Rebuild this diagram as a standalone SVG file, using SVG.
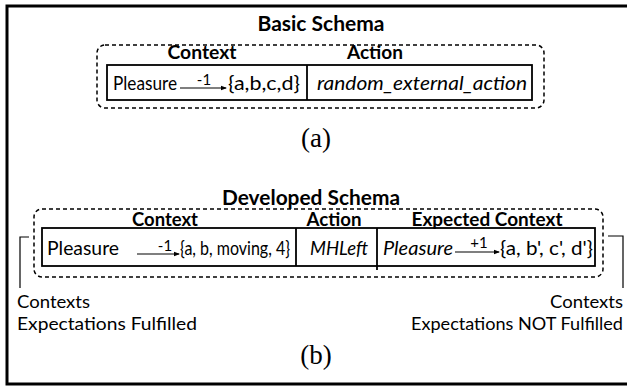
<svg xmlns="http://www.w3.org/2000/svg" width="627" height="386" viewBox="0 0 627 386">
  <style>
    .frame { fill: none; stroke: #000; stroke-width: 3; }
    .dash { fill: none; stroke: #000; stroke-width: 1.5; stroke-dasharray: 4 3; }
    .cell { fill: none; stroke: #000; stroke-width: 1.8; }
    .rule { stroke: #000; stroke-width: 1.2; fill: none; }
    .title { font-family: Lato, "Open Sans", sans-serif; font-weight: bold; font-size: 21px; fill: #000; }
    .head { font-family: Lato, "Open Sans", sans-serif; font-weight: bold; font-size: 19px; fill: #000; }
    .txt { font-family: Lato, "Open Sans", sans-serif; font-size: 20px; fill: #000; }
    .it { font-family: Lato, "Open Sans", sans-serif; font-style: italic; font-size: 20px; fill: #000; }
    .sup { font-family: Lato, "Open Sans", sans-serif; font-size: 15px; fill: #000; }
    .cap { font-family: "Liberation Serif", serif; font-size: 27px; fill: #000; }
    .note { font-family: Lato, "Open Sans", sans-serif; font-size: 18px; fill: #000; }
  </style>
  <defs>
    <marker id="ah" markerWidth="6" markerHeight="6" refX="5" refY="3" orient="auto" markerUnits="userSpaceOnUse">
      <path d="M0,0.8 L6,3 L0,5.2 Z" fill="#000"/>
    </marker>
  </defs>

  <rect class="frame" x="7" y="6" width="680" height="378"/>

  <!-- (a) basic schema -->
  <g id="basic-schema">
    <text class="title" x="321" y="31" text-anchor="middle" textLength="127" lengthAdjust="spacingAndGlyphs">Basic Schema</text>
    <rect class="dash" x="97" y="45" width="447" height="63" rx="8"/>
    <text class="head" x="202" y="59" text-anchor="middle" textLength="69" lengthAdjust="spacingAndGlyphs">Context</text>
    <text class="head" x="375" y="59" text-anchor="middle" textLength="56" lengthAdjust="spacingAndGlyphs">Action</text>
    <rect class="cell" x="107" y="65" width="425" height="35"/>
    <line class="cell" x1="307" y1="65" x2="307" y2="100"/>
    <text class="txt" x="113" y="90" textLength="64" lengthAdjust="spacingAndGlyphs">Pleasure</text>
    <text class="sup" x="204" y="85" text-anchor="middle">-1</text>
    <text class="txt" x="228" y="90" textLength="72" lengthAdjust="spacingAndGlyphs">{a,b,c,d}</text>
    <text class="it" x="317" y="90" textLength="210" lengthAdjust="spacingAndGlyphs">random_external_action</text>
    <text class="cap" x="316" y="147" text-anchor="middle">(a)</text>
  </g>

  <!-- (b) developed schema -->
  <g id="developed-schema">
    <text class="title" x="311" y="205" text-anchor="middle" textLength="178" lengthAdjust="spacingAndGlyphs">Developed Schema</text>
    <rect class="dash" x="34" y="209" width="569" height="68" rx="8"/>
    <text class="head" x="165" y="226" text-anchor="middle" textLength="66" lengthAdjust="spacingAndGlyphs">Context</text>
    <text class="head" x="334" y="226" text-anchor="middle" textLength="55" lengthAdjust="spacingAndGlyphs">Action</text>
    <text class="head" x="487" y="226" text-anchor="middle" textLength="151" lengthAdjust="spacingAndGlyphs">Expected Context</text>
    <rect class="cell" x="42" y="228" width="553" height="38"/>
    <line class="cell" x1="296" y1="228" x2="296" y2="266"/>
    <line class="cell" x1="377" y1="228" x2="377" y2="270"/>
    <text class="txt" x="47" y="255" textLength="72" lengthAdjust="spacingAndGlyphs">Pleasure</text>
    <text class="sup" x="165" y="251" text-anchor="middle">-1</text>
    <text class="txt" x="180" y="255" textLength="110" lengthAdjust="spacingAndGlyphs">{a, b, moving, 4}</text>
    <text class="it" x="310" y="255" textLength="58" lengthAdjust="spacingAndGlyphs">MHLeft</text>
    <text class="it" x="383" y="255" textLength="70" lengthAdjust="spacingAndGlyphs">Pleasure</text>
    <text class="sup" x="479" y="248" text-anchor="middle">+1</text>
    <text class="txt" x="500" y="255" textLength="93" lengthAdjust="spacingAndGlyphs">{a, b', c', d'}</text>
    <text class="cap" x="316" y="364" text-anchor="middle">(b)</text>
  </g>

  <g id="fulfilled">
    <text class="note" x="17" y="308" textLength="73" lengthAdjust="spacingAndGlyphs">Contexts</text>
    <text class="note" x="17" y="330" textLength="180" lengthAdjust="spacingAndGlyphs">Expectations Fulfilled</text>
  </g>

  <g id="not-fulfilled">
    <text class="note" x="623" y="308" text-anchor="end" textLength="73" lengthAdjust="spacingAndGlyphs">Contexts</text>
    <text class="note" x="623" y="330" text-anchor="end" textLength="212" lengthAdjust="spacingAndGlyphs">Expectations NOT Fulfilled</text>
  </g>

  <g id="connectors">
    <line class="rule" x1="180" y1="88" x2="226" y2="88" marker-end="url(#ah)"/>
    <line class="rule" x1="137" y1="254" x2="179" y2="254" marker-end="url(#ah)"/>
    <line class="rule" x1="455" y1="252" x2="499" y2="252" marker-end="url(#ah)"/>
    <polyline class="rule" points="29,237 20,237 20,288"/>
    <polyline class="rule" points="608,236 623,236 623,288"/>
  </g>
</svg>
